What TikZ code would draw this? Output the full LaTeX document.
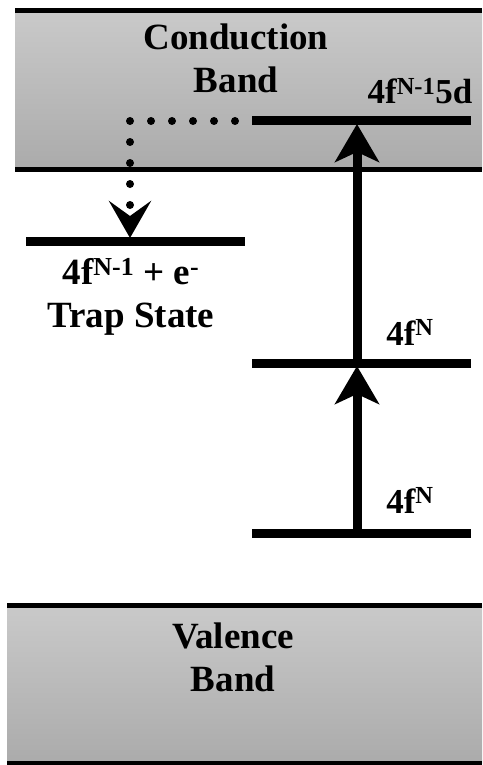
\documentclass[tikz,border=0pt]{standalone}
\usepackage{fontspec}
\setmainfont{Liberation Serif}
\usetikzlibrary{arrows.meta}

\begin{document}
\begin{tikzpicture}[x=1pt,y=-1pt,
    band/.style={top color=black!21, bottom color=black!33, draw=none},
    bandedge/.style={line width=5pt},
    level/.style={line width=9pt},
    pump/.style={line width=9pt, shorten >=3pt,
        -{Stealth[length=38pt,width=44pt,inset=10pt]}},
    trapping/.style={line width=8pt, line cap=round,
        dash pattern=on 0pt off 21pt, dash phase=4pt, shorten >=3pt,
        -{Stealth[length=37pt,width=42pt,inset=15pt]}},
    lbl/.style={font=\bfseries\fontsize{37}{43}\selectfont, align=center, inner sep=0pt},
    lvl/.style={font=\bfseries\fontsize{35}{40}\selectfont, anchor=base, inner sep=0pt}]
    % Canvas
    \useasboundingbox (0,0) rectangle (482,765);

    % Conduction band
    \fill[band] (15,11) rectangle (482,169);
    \draw[bandedge] (15,11) -- (482,11);
    \draw[bandedge] (15,169) -- (482,169);
    \node[lbl] (cbName) at (236,58) {Conduction\\Band};

    % Valence band
    \fill[band] (7,605) rectangle (482,763);
    \draw[bandedge] (7,605) -- (482,605);
    \draw[bandedge] (7,763) -- (482,763);
    \node[lbl] (vbName) at (233,657) {Valence\\Band};

    % Levels
    \coordinate (d5L) at (252,121);  \coordinate (d5R) at (471,121);
    \coordinate (trL) at (26,241);   \coordinate (trR) at (245,241);
    \coordinate (fNL) at (252,363);  \coordinate (fNR) at (471,363);
    \coordinate (f0L) at (252,533);  \coordinate (f0R) at (471,533);
    \coordinate (d5M) at (357,121);
    \coordinate (fNM) at (357,363);
    \coordinate (f0M) at (357,533);
    \coordinate (trM) at (130,241);
    \draw[level] (d5L) -- (d5R);
    \draw[level] (trL) -- (trR);
    \draw[level] (fNL) -- (fNR);
    \draw[level] (f0L) -- (f0R);

    % Level labels
    \node[lvl] (d5Name) at (420,104) {4f\textsuperscript{N-1}5d};
    \node[lvl] (fNName) at (410,345) {4f\textsuperscript{N}};
    \node[lvl] (f0Name) at (410,513) {4f\textsuperscript{N}};
    \node[lbl] (trName) at (131,297) {4f\textsuperscript{N-1} + e\textsuperscript{-}\\Trap State};

    % Excitation and trapping
    \draw[pump] (f0M) -- (fNM);
    \draw[pump] (fNM) -- (d5M);
    \draw[trapping] (d5L) -| (trM);
\end{tikzpicture}
\end{document}
